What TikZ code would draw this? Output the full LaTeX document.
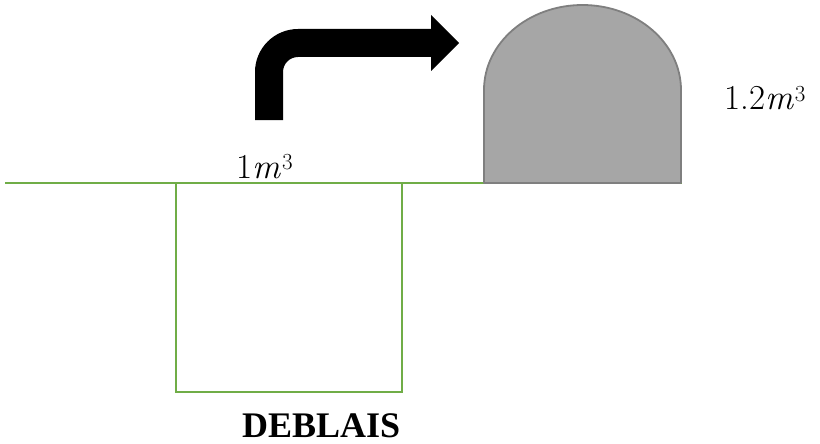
\documentclass[tikz,border=0pt]{standalone}
\usepackage{fontspec}
\newfontfamily\labelfont{Liberation Serif}
\definecolor{groundgreen}{HTML}{70AD47}
\definecolor{moundfill}{HTML}{A6A6A6}
\definecolor{moundline}{HTML}{7F7F7F}
\newcommand{\cubic}[1]{#1\kern0.5pt\textit{m}\kern0.5pt\raisebox{8.5pt}{\fontsize{23}{27}\selectfont 3}}
\tikzset{
  ground/.style={draw=groundgreen, line width=2.2pt},
  mound/.style={fill=moundfill, draw=moundline, line width=1.8pt, line join=round},
  volume/.style={inner sep=0pt, anchor=base west, font=\fontsize{35}{40}\selectfont},
  caption/.style={inner sep=0pt, anchor=base west, font=\fontsize{36}{42}\selectfont\labelfont\bfseries},
}
\begin{document}
\begin{tikzpicture}[x=1pt, y=-1pt]
  \useasboundingbox (0,0) rectangle (820,444);

  % excavation pit and ground level
  \draw[ground] (176,183) rectangle (402,392);
  \coordinate (gl) at (5,183);
  \coordinate (gr) at (682,183);
  \draw[ground] (gl) -- (gr);

  % embankment heap
  \path[mound] (484,183) -- (484,90)
    .. controls (484,43.1) and (528.1,5) .. (582.5,5)
    .. controls (636.9,5) and (681,43.1) .. (681,90)
    -- (681,183) -- cycle;

  % bent transfer arrow
  \fill[black] (255,120) -- (255,72)
    .. controls (255,48.3) and (274.3,29) .. (298,29)
    -- (431,29) -- (431,15) -- (459,43) -- (431,71) -- (431,57)
    -- (298,57)
    .. controls (289.7,57) and (283,63.7) .. (283,72)
    -- (283,120) -- cycle;

  % volume labels
  \node[volume] (vin) at (236,178) {\cubic{1}};
  \node[volume] (vout) at (724,110) {\cubic{1.2}};
  \node[caption] (deb) at (242,437) {DEBLAIS};
\end{tikzpicture}
\end{document}
